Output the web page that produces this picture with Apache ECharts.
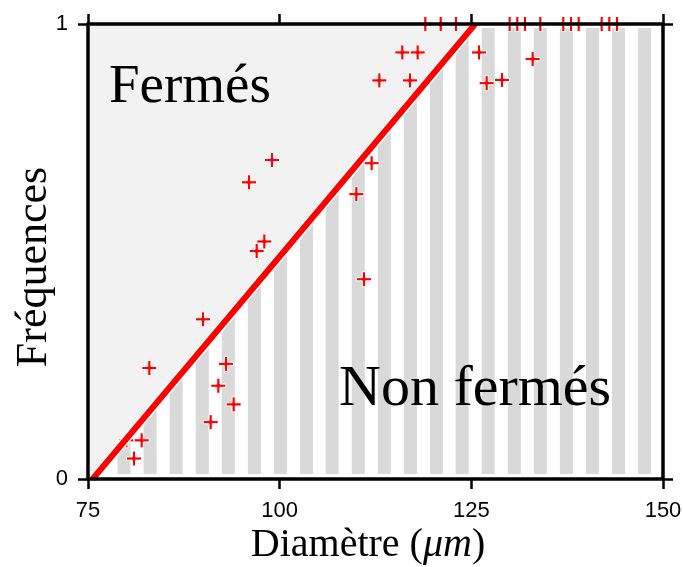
<!DOCTYPE html>
<html>
<head>
<meta charset="utf-8">
<script src="https://cdn.jsdelivr.net/npm/echarts@6/dist/echarts.min.js"></script>
<style>html,body{margin:0;padding:0;background:#fff}#c{width:683px;height:567px}</style>
</head>
<body>
<div id="c"></div>
<script>
// ---- data ----
const xTicks = [75, 100, 125, 150];
const yTicks = [0, 1];
const closedX = [80, 81, 82, 83, 90, 91, 92, 93, 94, 96, 97, 98, 99, 110, 111, 112, 113, 116, 117, 118, 126, 127, 129, 133,
                 119, 121, 123, 130, 131, 132, 134, 137, 138, 139, 142, 143, 144];
const closedY = [0.085, 0.045, 0.085, 0.244, 0.351, 0.125, 0.205, 0.253, 0.164, 0.652, 0.501, 0.522, 0.701, 0.626, 0.439, 0.694, 0.876, 0.9375, 0.876, 0.9375, 0.9375, 0.870, 0.877, 0.923,
                 1, 1, 1, 1, 1, 1, 1, 1, 1, 1, 1, 1, 1];
const fitX = [75.6, 125.5];
const fitY = [0, 1];
const stripeCenters = [79.7, 83.1, 86.5, 89.9, 93.3, 96.7, 100.1, 103.5, 106.85, 110.25, 113.65, 117.05, 120.45, 123.8, 127.2, 130.6, 134.0, 137.4, 140.8, 144.2, 147.6];
const stripeHalfWidth = 0.85;
const stripeYRange = [0.011, 0.991];
const labelClosed = 'Fermés';
const labelOpen = 'Non fermés';
const xTitle = 'Diamètre ({it|μm})';
const yTitle = 'Fréquences';

// ---- helpers ----
function fitAt(x) {
  return fitY[0] + (x - fitX[0]) * (fitY[1] - fitY[0]) / (fitX[1] - fitX[0]);
}
const scatterData = closedX.map((x, i) => [x, closedY[i]]);
const fitData = fitX.map((x, i) => [x, fitY[i]]);
const plusPath = 'path://M6.3,0H9.7V6.3H16V9.7H9.7V16H6.3V9.7H0V6.3H6.3Z';
const serif = '"Liberation Serif", "DejaVu Serif", serif';
const sans = '"Liberation Sans", Arial, sans-serif';

const chart = echarts.init(document.getElementById('c'), null, {renderer: 'canvas'});
function axisCommon() {
  return {
    axisLine: {show: true, onZero: false, lineStyle: {color: '#000', width: 3.5}},
    axisTick: {show: true, inside: false, length: 10, lineStyle: {color: '#000', width: 2.5}},
    splitLine: {show: false},
    z: 10
  };
}
const option = {
  animation: false,
  backgroundColor: '#fff',
  grid: {left: 88, right: 20, top: 24, bottom: 88, show: true, backgroundColor: '#f2f2f2', borderWidth: 0,
    containLabel: false, outerBoundsMode: 'none'},
  xAxis: [
    Object.assign(axisCommon(), {
      type: 'value', position: 'bottom', min: xTicks[0], max: xTicks[xTicks.length - 1], interval: xTicks[1] - xTicks[0],
      axisLabel: {show: true, margin: 21, color: '#000', fontSize: 22, fontFamily: sans}
    }),
    Object.assign(axisCommon(), {
      type: 'value', position: 'top', min: xTicks[0], max: xTicks[xTicks.length - 1], interval: xTicks[1] - xTicks[0],
      axisLabel: {show: false}
    })
  ],
  yAxis: [
    Object.assign(axisCommon(), {
      type: 'value', position: 'left', min: yTicks[0], max: yTicks[yTicks.length - 1], interval: yTicks[1] - yTicks[0],
      axisLabel: {show: true, margin: 20, color: '#000', fontSize: 22, fontFamily: sans}
    }),
    Object.assign(axisCommon(), {
      type: 'value', position: 'right', min: yTicks[0], max: yTicks[yTicks.length - 1], interval: yTicks[1] - yTicks[0],
      axisLabel: {show: false}
    })
  ],
  graphic: [
    {type: 'text', left: 109, top: 60, z: 20,
      style: {text: labelClosed, font: '55px ' + serif, fill: '#000'}},
    {type: 'text', left: 339, top: 361, z: 20,
      style: {text: labelOpen, font: '58px ' + serif, fill: '#000'}},
    {type: 'text', x: 368, y: 545, z: 20,
      style: {text: xTitle, font: '40px ' + serif, fill: '#000', align: 'center', verticalAlign: 'middle',
        rich: {it: {fontStyle: 'italic', fontSize: 40, fontFamily: serif, fill: '#000'}}}},
    {type: 'text', x: 34, y: 267, rotation: Math.PI / 2, z: 20,
      style: {text: yTitle, font: '44px ' + serif, fill: '#000', align: 'center', verticalAlign: 'middle'}}
  ],
  series: [
    {
      type: 'custom', z: 1, clip: true, silent: true,
      data: [[fitX[0], fitY[0]]],
      renderItem: function (params, api) {
        const p0 = api.coord([fitX[0], fitY[0]]);
        const p1 = api.coord([fitX[1], fitY[1]]);
        const p2 = api.coord([xTicks[xTicks.length - 1], fitY[1]]);
        const p3 = api.coord([xTicks[xTicks.length - 1], fitY[0]]);
        return {type: 'polygon', shape: {points: [p0, p1, p2, p3]}, style: {fill: '#ffffff'}};
      }
    },
    {
      type: 'custom', z: 2, clip: true, silent: true,
      data: stripeCenters.map(c => [c]),
      renderItem: function (params, api) {
        const c = api.value(0);
        const a = c - stripeHalfWidth, b = c + stripeHalfWidth;
        const ya = Math.min(stripeYRange[1], fitAt(a));
        const yb = Math.min(stripeYRange[1], fitAt(b));
        const pts = [
          api.coord([a, stripeYRange[0]]),
          api.coord([b, stripeYRange[0]]),
          api.coord([b, yb]),
          api.coord([a, ya])
        ];
        return {type: 'polygon', shape: {points: pts}, style: {fill: '#d9d9d9'}};
      }
    },
    {
      type: 'scatter', z: 3, data: scatterData, symbol: plusPath, symbolSize: 15,
      itemStyle: {color: '#ff0000', borderColor: '#ffffff', borderWidth: 1, opacity: 1},
      emphasis: {disabled: true}
    },
    {
      type: 'line', z: 4, data: fitData, showSymbol: false, symbol: 'none',
      lineStyle: {color: '#ffffff', width: 9}, silent: true
    },
    {
      type: 'line', z: 5, data: fitData, showSymbol: false, symbol: 'none',
      lineStyle: {color: '#ff0000', width: 6}, silent: true
    }
  ]
};
chart.setOption(option);
</script>
</body>
</html>
